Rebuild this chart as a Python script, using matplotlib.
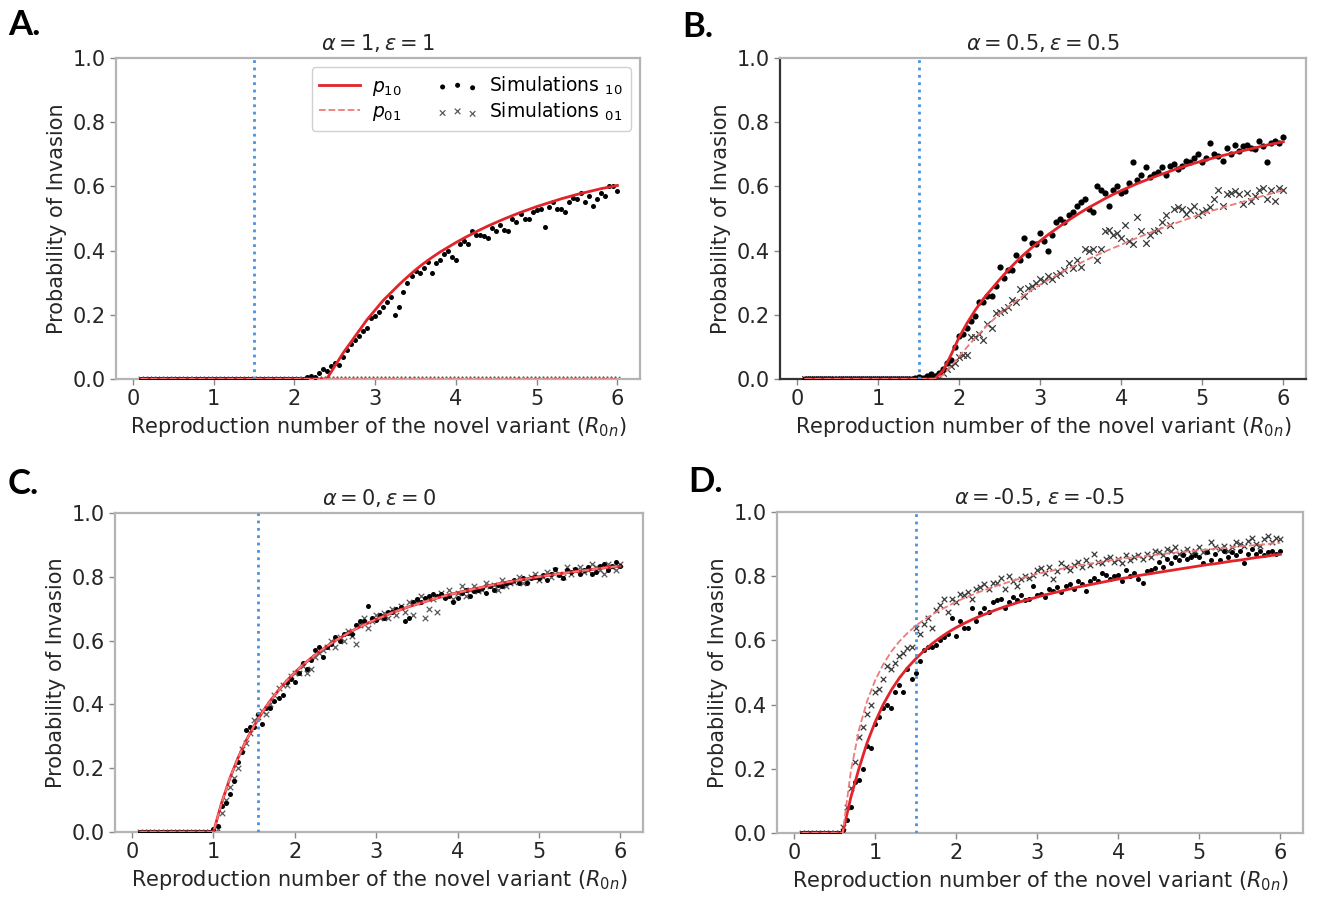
import numpy as np
import matplotlib
matplotlib.use("Agg")
import matplotlib.pyplot as plt

# ---------------- data ----------------
# reproduction number grids
R_sim = np.round(np.arange(0.10, 6.0001, 0.05), 2)     # simulation points (119)
R_curve = np.round(np.arange(0.1, 6.0001, 0.1), 1)     # analytic curves (60)

titles = [r"$\alpha = 1, \varepsilon = 1$",
          r"$\alpha = 0.5, \varepsilon = 0.5$",
          r"$\alpha = 0, \varepsilon = 0$",
          r"$\alpha =$-0.5, $\varepsilon =$-0.5"]
letters = ["A.", "B.", "C.", "D."]
vline_R = [1.5, 1.5, 1.55, 1.5]

# ---- panel A ----
A_p10 = [0, 0, 0, 0, 0, 0, 0, 0, 0, 0,
         0, 0, 0, 0, 0, 0, 0, 0, 0, 0,
         0, 0, 0, 0, 0.04, 0.08, 0.115, 0.15, 0.185, 0.215,
         0.245, 0.27, 0.295, 0.318, 0.34, 0.36, 0.378, 0.395, 0.41, 0.425,
         0.439, 0.452, 0.465, 0.477, 0.488, 0.499, 0.509, 0.519, 0.528, 0.537,
         0.545, 0.553, 0.561, 0.568, 0.575, 0.581, 0.587, 0.593, 0.598, 0.603]
A_p01 = [0, 0, 0, 0, 0, 0, 0, 0, 0, 0,
         0, 0, 0, 0, 0, 0, 0, 0, 0, 0,
         0, 0, 0, 0, 0, 0, 0, 0, 0, 0,
         0, 0, 0, 0, 0, 0, 0, 0, 0, 0,
         0, 0, 0, 0, 0, 0, 0, 0, 0, 0,
         0, 0, 0, 0, 0, 0, 0, 0, 0, 0]
A_sim10 = [0, 0, 0, 0, 0, 0, 0, 0, 0, 0,
           0, 0, 0, 0, 0, 0, 0, 0, 0, 0,
           0, 0, 0, 0, 0, 0, 0, 0, 0, 0,
           0, 0, 0, 0, 0, 0, 0, 0, 0, 0,
           0, 0.005, 0.01, 0.005, 0.02, 0.03, 0.025, 0.04, 0.05, 0.045,
           0.07, 0.09, 0.11, 0.12, 0.135, 0.15, 0.16, 0.19, 0.195, 0.21,
           0.225, 0.24, 0.255, 0.20, 0.225, 0.27, 0.30, 0.32, 0.335, 0.33,
           0.345, 0.365, 0.33, 0.36, 0.37, 0.39, 0.40, 0.38, 0.37, 0.42,
           0.43, 0.42, 0.46, 0.45, 0.45, 0.445, 0.44, 0.47, 0.46, 0.48,
           0.465, 0.46, 0.50, 0.49, 0.515, 0.50, 0.50, 0.52, 0.525, 0.53,
           0.475, 0.535, 0.55, 0.53, 0.53, 0.52, 0.55, 0.565, 0.56, 0.58,
           0.55, 0.57, 0.54, 0.56, 0.58, 0.57, 0.60, 0.60, 0.585]
A_sim01 = [0, 0, 0, 0, 0, 0, 0, 0, 0, 0,
           0, 0, 0, 0, 0, 0, 0, 0, 0, 0,
           0, 0, 0, 0, 0, 0, 0, 0, 0, 0,
           0, 0, 0, 0, 0, 0, 0, 0, 0, 0,
           0, 0, 0, 0, 0, 0, 0, 0, 0, 0,
           0, 0, 0, 0, 0, 0, 0, 0, 0, 0,
           0, 0, 0, 0, 0, 0, 0, 0, 0, 0,
           0, 0, 0, 0, 0, 0, 0, 0, 0, 0,
           0, 0, 0, 0, 0, 0, 0, 0, 0, 0,
           0, 0, 0, 0, 0, 0, 0, 0, 0, 0,
           0, 0, 0, 0, 0, 0, 0, 0, 0, 0,
           0, 0, 0, 0, 0, 0, 0, 0, 0]

# ---- panel B ----
B_p10 = [0, 0, 0, 0, 0, 0, 0, 0, 0, 0,
         0, 0, 0, 0, 0, 0, 0, 0.025, 0.075, 0.13,
         0.175, 0.215, 0.25, 0.28, 0.31, 0.338, 0.364, 0.388, 0.41, 0.43,
         0.45, 0.468, 0.486, 0.503, 0.519, 0.534, 0.548, 0.562, 0.575, 0.587,
         0.598, 0.609, 0.619, 0.629, 0.638, 0.647, 0.656, 0.664, 0.672, 0.679,
         0.686, 0.693, 0.699, 0.705, 0.711, 0.717, 0.723, 0.729, 0.734, 0.739]
B_p01 = [0, 0, 0, 0, 0, 0, 0, 0, 0, 0,
         0, 0, 0, 0, 0, 0, 0, 0.012, 0.04, 0.07,
         0.10, 0.128, 0.155, 0.18, 0.203, 0.224, 0.243, 0.261, 0.278, 0.294,
         0.309, 0.323, 0.337, 0.35, 0.362, 0.374, 0.386, 0.397, 0.408, 0.418,
         0.43, 0.44, 0.45, 0.46, 0.47, 0.479, 0.488, 0.497, 0.506, 0.514,
         0.523, 0.53, 0.538, 0.545, 0.552, 0.56, 0.567, 0.574, 0.581, 0.588]
B_sim10 = [0, 0, 0, 0, 0, 0, 0, 0, 0, 0,
           0, 0, 0, 0, 0, 0, 0, 0, 0, 0,
           0, 0, 0, 0, 0, 0, 0, 0.002, 0.005, 0.003,
           0.01, 0.015, 0.008, 0.02, 0.03, 0.05, 0.06, 0.10, 0.135, 0.14,
           0.16, 0.18, 0.195, 0.24, 0.24, 0.26, 0.26, 0.29, 0.35, 0.315,
           0.34, 0.34, 0.385, 0.37, 0.44, 0.385, 0.425, 0.42, 0.455, 0.43,
           0.40, 0.45, 0.49, 0.50, 0.49, 0.51, 0.52, 0.54, 0.55, 0.56,
           0.53, 0.52, 0.60, 0.59, 0.58, 0.54, 0.59, 0.60, 0.58, 0.585,
           0.61, 0.675, 0.62, 0.635, 0.66, 0.63, 0.64, 0.645, 0.66, 0.635,
           0.665, 0.67, 0.655, 0.665, 0.68, 0.675, 0.69, 0.70, 0.675, 0.69,
           0.735, 0.70, 0.695, 0.68, 0.72, 0.70, 0.73, 0.71, 0.725, 0.73,
           0.72, 0.715, 0.74, 0.725, 0.675, 0.735, 0.74, 0.735, 0.755]
B_sim01 = [0, 0, 0, 0, 0, 0, 0, 0, 0, 0,
           0, 0, 0, 0, 0, 0, 0, 0, 0, 0,
           0, 0, 0, 0, 0, 0, 0, 0, 0, 0,
           0, 0.005, 0, 0.01, 0.02, 0.03, 0.04, 0.05, 0.07, 0.075,
           0.075, 0.13, 0.13, 0.14, 0.12, 0.17, 0.16, 0.205, 0.21, 0.215,
           0.225, 0.245, 0.24, 0.28, 0.26, 0.285, 0.29, 0.30, 0.31, 0.305,
           0.32, 0.31, 0.325, 0.33, 0.34, 0.36, 0.345, 0.37, 0.35, 0.405,
           0.40, 0.405, 0.37, 0.405, 0.46, 0.465, 0.45, 0.455, 0.44, 0.48,
           0.43, 0.42, 0.505, 0.46, 0.425, 0.45, 0.46, 0.465, 0.49, 0.51,
           0.48, 0.53, 0.535, 0.53, 0.515, 0.525, 0.54, 0.51, 0.52, 0.525,
           0.535, 0.56, 0.59, 0.54, 0.575, 0.58, 0.585, 0.575, 0.545, 0.58,
           0.555, 0.57, 0.59, 0.595, 0.56, 0.59, 0.555, 0.595, 0.59]

# ---- panel C ----
C_p10 = [0, 0, 0, 0, 0, 0, 0, 0, 0, 0,
         0.091, 0.167, 0.231, 0.286, 0.333, 0.375, 0.412, 0.444, 0.474, 0.5,
         0.524, 0.545, 0.565, 0.583, 0.6, 0.615, 0.63, 0.643, 0.655, 0.667,
         0.677, 0.688, 0.697, 0.706, 0.714, 0.722, 0.73, 0.737, 0.744, 0.75,
         0.756, 0.762, 0.767, 0.773, 0.778, 0.783, 0.787, 0.792, 0.796, 0.8,
         0.804, 0.808, 0.811, 0.815, 0.818, 0.821, 0.825, 0.828, 0.831, 0.833]
C_p01 = list(C_p10)   # identical when alpha = epsilon = 0
C_sim10 = [0, 0, 0, 0, 0, 0, 0, 0, 0, 0,
           0, 0, 0, 0, 0, 0, 0, 0, 0.01, 0.02,
           0.08, 0.09, 0.12, 0.16, 0.22, 0.25, 0.32, 0.33, 0.33, 0.37,
           0.34, 0.39, 0.39, 0.41, 0.42, 0.43, 0.47, 0.48, 0.47, 0.50,
           0.53, 0.51, 0.54, 0.57, 0.58, 0.55, 0.58, 0.59, 0.61, 0.60,
           0.62, 0.625, 0.62, 0.65, 0.66, 0.66, 0.71, 0.67, 0.665, 0.68,
           0.67, 0.69, 0.69, 0.70, 0.705, 0.66, 0.67, 0.72, 0.73, 0.72,
           0.735, 0.74, 0.745, 0.74, 0.745, 0.735, 0.74, 0.72, 0.735, 0.75,
           0.76, 0.74, 0.755, 0.76, 0.765, 0.75, 0.77, 0.76, 0.775, 0.77,
           0.78, 0.785, 0.79, 0.78, 0.795, 0.78, 0.795, 0.80, 0.795, 0.805,
           0.79, 0.81, 0.825, 0.805, 0.795, 0.82, 0.815, 0.825, 0.81, 0.82,
           0.83, 0.81, 0.815, 0.835, 0.84, 0.82, 0.835, 0.845, 0.835]
C_sim01 = [0, 0, 0, 0, 0, 0, 0, 0, 0, 0,
           0, 0, 0, 0, 0, 0, 0, 0, 0, 0.01,
           0.06, 0.10, 0.14, 0.17, 0.20, 0.26, 0.28, 0.31, 0.35, 0.36,
           0.38, 0.37, 0.40, 0.43, 0.45, 0.46, 0.46, 0.49, 0.50, 0.50,
           0.52, 0.50, 0.51, 0.55, 0.56, 0.57, 0.58, 0.60, 0.58, 0.61,
           0.60, 0.63, 0.615, 0.59, 0.65, 0.67, 0.64, 0.66, 0.68, 0.67,
           0.685, 0.67, 0.70, 0.68, 0.71, 0.69, 0.72, 0.68, 0.72, 0.74,
           0.67, 0.70, 0.73, 0.69, 0.75, 0.74, 0.76, 0.73, 0.75, 0.77,
           0.74, 0.76, 0.77, 0.755, 0.76, 0.78, 0.77, 0.775, 0.76, 0.79,
           0.77, 0.78, 0.785, 0.80, 0.78, 0.79, 0.80, 0.81, 0.79, 0.80,
           0.815, 0.80, 0.82, 0.81, 0.80, 0.83, 0.81, 0.82, 0.83, 0.815,
           0.82, 0.84, 0.83, 0.82, 0.81, 0.84, 0.83, 0.82, 0.84]

# ---- panel D ----
D_p10 = [0, 0, 0, 0, 0, 0, 0.11, 0.2, 0.28, 0.345,
         0.40, 0.445, 0.483, 0.515, 0.542, 0.567, 0.589, 0.608, 0.625, 0.64,
         0.653, 0.665, 0.676, 0.686, 0.696, 0.705, 0.713, 0.721, 0.728, 0.735,
         0.742, 0.748, 0.754, 0.76, 0.766, 0.771, 0.776, 0.781, 0.786, 0.791,
         0.795, 0.80, 0.804, 0.808, 0.812, 0.816, 0.82, 0.824, 0.828, 0.832,
         0.836, 0.839, 0.843, 0.847, 0.85, 0.854, 0.858, 0.861, 0.865, 0.868]
D_p01 = [0, 0, 0, 0, 0, 0, 0.19, 0.32, 0.41, 0.475,
         0.525, 0.565, 0.597, 0.623, 0.645, 0.664, 0.68, 0.694, 0.707, 0.72,
         0.732, 0.742, 0.752, 0.761, 0.77, 0.778, 0.786, 0.793, 0.80, 0.807,
         0.812, 0.818, 0.823, 0.828, 0.833, 0.837, 0.841, 0.845, 0.849, 0.853,
         0.856, 0.859, 0.862, 0.865, 0.868, 0.871, 0.873, 0.876, 0.878, 0.881,
         0.883, 0.886, 0.888, 0.89, 0.893, 0.895, 0.897, 0.899, 0.902, 0.904]
D_sim10 = [0, 0, 0, 0, 0, 0, 0, 0, 0, 0,
           0.01, 0.04, 0.08, 0.16, 0.165, 0.20, 0.27, 0.265, 0.34, 0.36,
           0.39, 0.40, 0.39, 0.44, 0.46, 0.44, 0.51, 0.48, 0.50, 0.535,
           0.57, 0.58, 0.58, 0.585, 0.60, 0.61, 0.62, 0.67, 0.615, 0.66,
           0.64, 0.64, 0.70, 0.66, 0.685, 0.70, 0.69, 0.72, 0.725, 0.73,
           0.70, 0.72, 0.735, 0.725, 0.74, 0.725, 0.73, 0.77, 0.74, 0.745,
           0.735, 0.76, 0.755, 0.765, 0.75, 0.77, 0.775, 0.76, 0.785, 0.775,
           0.755, 0.785, 0.795, 0.785, 0.81, 0.805, 0.79, 0.80, 0.805, 0.785,
           0.82, 0.80, 0.81, 0.79, 0.78, 0.815, 0.82, 0.825, 0.845, 0.83,
           0.855, 0.84, 0.86, 0.85, 0.865, 0.855, 0.86, 0.865, 0.86, 0.84,
           0.875, 0.85, 0.87, 0.85, 0.88, 0.86, 0.875, 0.865, 0.88, 0.84,
           0.87, 0.885, 0.87, 0.88, 0.865, 0.875, 0.88, 0.87, 0.88]
D_sim01 = [0, 0, 0, 0, 0, 0, 0, 0, 0, 0,
           0.02, 0.08, 0.14, 0.22, 0.30, 0.33, 0.37, 0.40, 0.44, 0.45,
           0.48, 0.52, 0.51, 0.53, 0.55, 0.56, 0.575, 0.58, 0.64, 0.62,
           0.65, 0.67, 0.64, 0.695, 0.71, 0.73, 0.69, 0.73, 0.72, 0.745,
           0.74, 0.75, 0.73, 0.76, 0.765, 0.775, 0.76, 0.78, 0.78, 0.795,
           0.76, 0.80, 0.785, 0.77, 0.79, 0.80, 0.795, 0.805, 0.82, 0.825,
           0.81, 0.83, 0.79, 0.815, 0.84, 0.83, 0.82, 0.835, 0.845, 0.83,
           0.85, 0.835, 0.87, 0.845, 0.84, 0.855, 0.86, 0.845, 0.855, 0.84,
           0.865, 0.85, 0.86, 0.865, 0.855, 0.87, 0.86, 0.88, 0.875, 0.865,
           0.885, 0.88, 0.89, 0.87, 0.875, 0.885, 0.87, 0.88, 0.89, 0.875,
           0.88, 0.905, 0.89, 0.885, 0.895, 0.88, 0.89, 0.905, 0.90, 0.895,
           0.91, 0.92, 0.90, 0.895, 0.915, 0.925, 0.905, 0.92, 0.915]

curves10 = [A_p10, B_p10, C_p10, D_p10]
curves01 = [A_p01, B_p01, C_p01, D_p01]
sims10 = [A_sim10, B_sim10, C_sim10, D_sim10]
sims01 = [A_sim01, B_sim01, C_sim01, D_sim01]

# ---------------- layout ----------------
W, H = 1333, 899
fig = plt.figure(figsize=(W / 100, H / 100), dpi=100)
plt.rcParams["mathtext.fontset"] = "dejavusans"

# axes boxes in pixels: left, right, top, bottom
boxes = [(116, 640, 58, 379), (780, 1306, 58, 379),
         (115, 643, 513, 832), (777, 1303, 512, 833)]
letter_pos = [(8, 35), (682, 37), (8, 494), (688, 492)]

RED = "#e3232a"
RED_LIGHT = "#f07a7a"
BLUE = "#4a93dc"
TXT = "#262626"
FS = 15

for k in range(4):
    l, r, t, b = boxes[k]
    ax = fig.add_axes([l / W, 1 - b / H, (r - l) / W, (b - t) / H])
    dot_s = 20 if k == 1 else 13
    x_s = 22 if k == 1 else 16
    x_col = "#3a3a3a" if k in (1, 3) else "#5a5a5a"

    ax.scatter(R_sim, sims01[k], marker="x", s=x_s, color=x_col,
               linewidths=0.9, zorder=2, label=r"Simulations $_{01}$")
    ax.scatter(R_sim, sims10[k], marker="o", s=dot_s, color="black",
               linewidths=0, zorder=3, label=r"Simulations $_{10}$")
    ax.plot(R_curve, curves10[k], color=RED, lw=2.0, zorder=4,
            label=r"$p_{10}$")
    ax.plot(R_curve, curves01[k], color=RED_LIGHT, lw=1.3, ls="--",
            zorder=4, label=r"$p_{01}$")
    ax.axvline(vline_R[k], color=BLUE, ls=":", lw=2.0, zorder=5)

    ax.set_xlim(-0.21, 6.28)
    ax.set_ylim(0, 1.0)
    ax.set_xticks([0, 1, 2, 3, 4, 5, 6])
    ax.set_yticks([0.0, 0.2, 0.4, 0.6, 0.8, 1.0])
    ax.set_yticklabels(["0.0", "0.2", "0.4", "0.6", "0.8", "1.0"])
    ax.tick_params(axis="both", labelsize=FS, colors="#888888",
                   labelcolor=TXT, length=4, width=1.0, direction="out")
    ax.set_xlabel(r"Reproduction number of the novel variant ($R_{0n}$)",
                  fontsize=FS, color=TXT)
    ax.set_ylabel("Probability of Invasion", fontsize=FS, color=TXT)
    ax.set_title(titles[k], fontsize=FS, color=TXT, pad=6)

    for side, sp in ax.spines.items():
        sp.set_color("#b4b4b4")
        sp.set_linewidth(1.6)
    if k == 1:
        ax.spines["left"].set_color("#333333")
        ax.spines["bottom"].set_color("#333333")

    if k == 0:
        h, lab = ax.get_legend_handles_labels()
        order = [2, 3, 1, 0]
        ax.legend([h[i] for i in order], [lab[i] for i in order],
                  loc="upper right", ncol=2, fontsize=13.5, scatterpoints=3,
                  handlelength=2.2, columnspacing=1.9, handletextpad=0.6,
                  labelspacing=0.2, edgecolor="#d0d0d0", framealpha=1.0,
                  borderaxespad=0.5)

    lx, ly = letter_pos[k]
    fig.text(lx / W, 1 - ly / H, letters[k], fontsize=25,
             fontweight="bold", family="Lato", color="black", va="baseline")

fig.savefig("out.png", dpi=100)
